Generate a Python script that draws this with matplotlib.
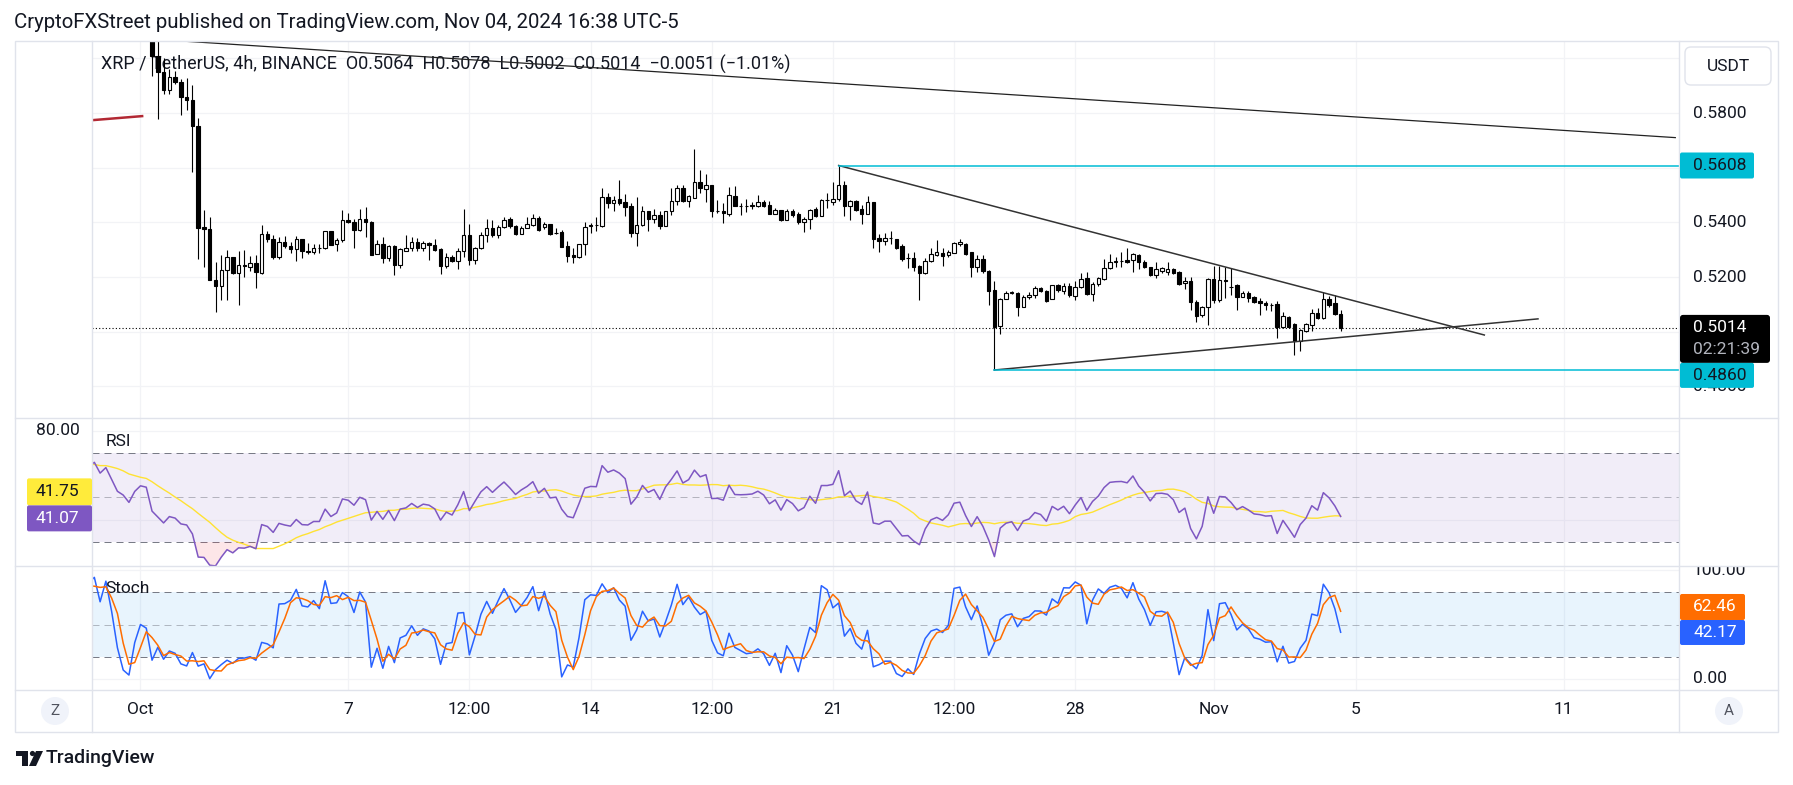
import numpy as np
import pandas as pd
import matplotlib
matplotlib.use("Agg")
import matplotlib.pyplot as plt
from matplotlib.patches import Rectangle, Circle, Polygon, FancyBboxPatch

plt.rcParams['font.family'] = ['Roboto', 'DejaVu Sans']

W, H, DPI = 1793, 785, 100
TXT = '#131722'
GRID = '#F2F3F6'
BORDER = '#E0E3EB'

# ---------------- data (4h bars, bar 0 = Oct 1 00:00) ----------------
first_bar = -40
opens = [
    .562,.565,.574,.568,.577,.584,.578,.587,.580,.589,
    .596,.590,.598,.591,.600,.606,.599,.607,.601,.609,
    .615,.608,.616,.610,.618,.624,.617,.625,.619,.627,
    .632,.625,
    .630,.635,.628,.634,.626,.617,.614,.608,.617,.622,
    .6210,.6010,.5950,.5885,.5930,.5915,.5857,.5847,
    .5751,.5383,.5374,.5188,.5169,.5224,.5272,.5214,.5245,.5238,
    .5250,.5214,.5357,.5338,.5273,.5327,.5312,.5301,.5338,.5294,
    .5291,.5305,.5305,.5367,.5322,.5334,.5407,.5400,.5373,.5411,
    .5402,.5285,.5322,.5269,.5312,.5245,.5297,.5308,.5330,.5308,
    .5323,.5318,.5303,.5241,.5272,.5257,.5297,.5353,.5261,.5306,
    .5353,.5381,.5355,.5383,.5414,.5385,.5358,.5381,.5391,.5416,
    .5382,.5393,.5362,.5364,.5314,.5281,.5272,.5320,.5387,.5389,
    .5387,.5492,.5470,.5484,.5473,.5460,.5360,.5389,.5441,.5414,
    .5426,.5388,.5441,.5478,.5524,.5479,.5490,.5548,.5523,.5535,
    .5441,.5441,.5432,.5496,.5461,.5460,.5461,.5461,.5473,.5462,
    .5432,.5444,.5410,.5440,.5430,.5403,.5411,.5448,.5425,.5481,
    .5476,.5484,.5535,.5461,.5478,.5449,.5432,.5474,.5344,.5333,
    .5342,.5338,.5314,.5269,.5270,.5241,.5216,.5257,.5282,.5287,
    .5281,.5289,.5321,.5321,.5290,.5238,.5266,.5222,.5153,.5021,
    .5120,.5143,.5143,.5092,.5126,.5134,.5159,.5149,.5121,.5170,
    .5150,.5167,.5131,.5164,.5195,.5138,.5173,.5193,.5232,.5256,
    .5259,.5262,.5262,.5282,.5254,.5235,.5207,.5223,.5220,.5229,
    .5219,.5177,.5186,.5110,.5060,.5092,.5192,.5116,.5189,.5165,
    .5170,.5128,.5143,.5128,.5114,.5104,.5098,.5102,.5019,.5055,
    .5027,.4967,.5004,.5025,.5070,.5051,.5120,.5104,.5064,
]
highs = [
    .567,.576,.575,.579,.586,.585,.589,.588,.591,.598,
    .597,.600,.599,.602,.608,.607,.609,.608,.611,.617,
    .616,.618,.617,.620,.626,.625,.627,.626,.629,.634,
    .633,.632,
    .637,.636,.635,.635,.627,.619,.615,.618,.624,.625,
    .6250,.6080,.6000,.5960,.5955,.5925,.5928,.5903,
    .5781,.5444,.5419,.5255,.5281,.5299,.5275,.5297,.5299,.5277,
    .5279,.5389,.5367,.5355,.5345,.5349,.5328,.5351,.5340,.5324,
    .5322,.5321,.5369,.5369,.5342,.5445,.5435,.5414,.5450,.5458,
    .5406,.5336,.5345,.5316,.5316,.5306,.5355,.5345,.5342,.5333,
    .5330,.5339,.5306,.5288,.5279,.5306,.5449,.5395,.5309,.5364,
    .5411,.5408,.5390,.5419,.5418,.5391,.5385,.5419,.5430,.5422,
    .5403,.5394,.5378,.5372,.5332,.5305,.5321,.5403,.5399,.5418,
    .5526,.5506,.5496,.5555,.5504,.5470,.5492,.5460,.5443,.5448,
    .5441,.5443,.5524,.5537,.5537,.5500,.5668,.5591,.5577,.5537,
    .5482,.5470,.5530,.5533,.5472,.5485,.5476,.5500,.5482,.5478,
    .5451,.5445,.5448,.5448,.5437,.5421,.5450,.5455,.5487,.5506,
    .5548,.5608,.5551,.5482,.5482,.5463,.5496,.5476,.5357,.5360,
    .5368,.5340,.5321,.5287,.5292,.5243,.5271,.5307,.5336,.5305,
    .5300,.5329,.5338,.5323,.5293,.5281,.5281,.5226,.5186,.5122,
    .5150,.5150,.5146,.5134,.5146,.5167,.5162,.5153,.5171,.5173,
    .5177,.5177,.5186,.5216,.5217,.5183,.5201,.5265,.5283,.5274,
    .5290,.5305,.5287,.5284,.5262,.5238,.5256,.5235,.5254,.5232,
    .5223,.5201,.5201,.5116,.5094,.5195,.5242,.5242,.5238,.5232,
    .5175,.5149,.5149,.5131,.5122,.5112,.5104,.5114,.5073,.5057,
    .5031,.5009,.5033,.5083,.5085,.5146,.5131,.5134,.5078,
]
lows = [
    .560,.564,.566,.567,.576,.576,.577,.578,.579,.588,
    .588,.589,.589,.590,.599,.597,.598,.599,.600,.608,
    .606,.607,.608,.609,.617,.615,.616,.617,.618,.626,
    .623,.624,
    .629,.627,.627,.625,.615,.612,.607,.607,.615,.618,
    .5936,.5779,.5870,.5870,.5905,.5794,.5812,.5586,
    .5267,.5235,.5188,.5071,.5117,.5117,.5211,.5099,.5201,.5221,
    .5160,.5212,.5330,.5266,.5267,.5308,.5288,.5260,.5269,.5284,
    .5286,.5288,.5303,.5318,.5296,.5330,.5397,.5308,.5369,.5347,
    .5281,.5284,.5250,.5260,.5208,.5233,.5294,.5294,.5294,.5294,
    .5263,.5294,.5212,.5233,.5255,.5230,.5275,.5245,.5249,.5302,
    .5330,.5345,.5342,.5379,.5381,.5355,.5357,.5379,.5388,.5369,
    .5374,.5354,.5359,.5309,.5256,.5253,.5268,.5282,.5360,.5370,
    .5382,.5451,.5443,.5463,.5423,.5345,.5315,.5387,.5370,.5399,
    .5377,.5387,.5428,.5465,.5476,.5457,.5490,.5509,.5476,.5421,
    .5433,.5399,.5425,.5460,.5427,.5438,.5448,.5457,.5457,.5432,
    .5432,.5406,.5409,.5418,.5394,.5366,.5374,.5421,.5423,.5452,
    .5465,.5479,.5423,.5409,.5441,.5394,.5430,.5307,.5292,.5317,
    .5321,.5304,.5260,.5234,.5223,.5116,.5212,.5255,.5278,.5242,
    .5275,.5287,.5314,.5281,.5201,.5220,.5214,.5098,.4860,.4990,
    .5119,.5138,.5057,.5089,.5121,.5122,.5146,.5110,.5120,.5146,
    .5138,.5128,.5116,.5161,.5134,.5112,.5169,.5189,.5229,.5238,
    .5238,.5253,.5217,.5228,.5232,.5205,.5195,.5216,.5207,.5210,
    .5170,.5157,.5079,.5034,.5055,.5025,.5104,.5110,.5122,.5134,
    .5079,.5126,.5110,.5104,.5061,.5079,.5076,.4978,.5015,.5012,
    .4915,.4929,.5000,.5004,.5047,.5048,.5092,.5061,.5002,
]
closes = [
    .565,.574,.568,.577,.584,.578,.587,.580,.589,.596,
    .590,.598,.591,.600,.606,.599,.607,.601,.609,.615,
    .608,.616,.610,.618,.624,.617,.625,.619,.627,.632,
    .625,.630,
    .635,.628,.634,.626,.617,.614,.608,.617,.622,.621,
    .6010,.5950,.5885,.5930,.5915,.5857,.5846,.5751,
    .5381,.5374,.5188,.5169,.5224,.5272,.5214,.5245,.5240,.5250,
    .5217,.5358,.5338,.5273,.5328,.5312,.5301,.5338,.5294,.5291,
    .5308,.5308,.5367,.5319,.5336,.5407,.5400,.5373,.5412,.5400,
    .5281,.5322,.5270,.5312,.5245,.5302,.5308,.5330,.5308,.5323,
    .5318,.5300,.5241,.5272,.5257,.5297,.5355,.5261,.5306,.5353,
    .5381,.5355,.5383,.5409,.5385,.5357,.5378,.5394,.5416,.5373,
    .5394,.5357,.5360,.5311,.5278,.5272,.5320,.5382,.5390,.5389,
    .5492,.5470,.5482,.5472,.5455,.5360,.5389,.5441,.5414,.5426,
    .5387,.5441,.5478,.5524,.5479,.5496,.5548,.5524,.5535,.5440,
    .5441,.5433,.5499,.5461,.5460,.5461,.5463,.5473,.5461,.5432,
    .5444,.5409,.5441,.5428,.5403,.5412,.5445,.5423,.5481,.5481,
    .5485,.5535,.5461,.5478,.5445,.5432,.5474,.5340,.5333,.5343,
    .5343,.5307,.5267,.5268,.5238,.5216,.5257,.5283,.5290,.5278,
    .5293,.5326,.5329,.5283,.5238,.5265,.5223,.5150,.5019,.5120,
    .5140,.5146,.5089,.5126,.5134,.5159,.5149,.5114,.5170,.5153,
    .5167,.5133,.5165,.5194,.5138,.5173,.5195,.5232,.5256,.5259,
    .5260,.5256,.5283,.5254,.5235,.5207,.5231,.5232,.5229,.5214,
    .5175,.5186,.5110,.5059,.5092,.5192,.5116,.5189,.5187,.5162,
    .5128,.5140,.5125,.5107,.5104,.5098,.5099,.5019,.5057,.5016,
    .4967,.5006,.5027,.5070,.5051,.5119,.5098,.5064,.5014,
]

# last indicator values as printed on the chart's scale labels
rsi_last = 41.07
rsi_ma_last = 41.75
stoch_k_last = 42.17
stoch_d_last = 62.46

# drawings (bar index, price)
long_line_x = [0.0, 266.0]
long_line_y = [0.6073, 0.5710]
upper_tl_x = [121.0, 232.9]
upper_tl_y = [0.5608, 0.4988]
lower_tl_x = [148.0, 242.2]
lower_tl_y = [0.4860, 0.5047]
red_seg_x = [-10.0, 0.5]
red_seg_y = [0.5771, 0.5789]
level_hi = 0.5608
level_hi_start = 121.0
level_lo = 0.4860
level_lo_start = 148.0
last_price = 0.5014
countdown = '02:21:39'

tick_pos = [0, 36, 57, 78, 99, 120, 141, 162, 186, 210.67, 246.67]
tick_lab = ['Oct', '7', '12:00', '14', '12:00', '21', '12:00', '28', 'Nov', '5', '11']
price_grid = [0.60, 0.58, 0.56, 0.54, 0.52, 0.50, 0.48]
price_labels = [0.58, 0.54, 0.52, 0.48]

header = "CryptoFXStreet published on TradingView.com, Nov 04, 2024 16:38 UTC-5"
legend = "XRP / TetherUS, 4h, BINANCE  O0.5064  H0.5078  L0.5002  C0.5014  \u22120.0051 (\u22121.01%)"

assert len(opens) == len(highs) == len(lows) == len(closes)

# ---------------- indicators ----------------
o = np.array(opens); hi = np.array(highs); lo = np.array(lows); c = np.array(closes)
x = np.arange(first_bar, first_bar + len(c))
n = 14
d = np.diff(c, prepend=c[0])
g = np.clip(d, 0, None); ls_ = np.clip(-d, 0, None)
ag = np.full(len(c), np.nan); al = np.full(len(c), np.nan)
ag[n] = g[1:n+1].mean(); al[n] = ls_[1:n+1].mean()
for i in range(n+1, len(c)):
    ag[i] = (ag[i-1]*(n-1) + g[i]) / n
    al[i] = (al[i-1]*(n-1) + ls_[i]) / n
rsi = 100 - 100/(1 + ag/al)
rsi_ma = pd.Series(rsi).rolling(14).mean().values
hh = pd.Series(hi).rolling(14).max().values
ll = pd.Series(lo).rolling(14).min().values
k = 100*(c - ll)/(hh - ll)
dline = pd.Series(k).rolling(3).mean().values

# ---------------- figure ----------------
fig = plt.figure(figsize=(W/DPI, H/DPI), dpi=DPI)
fig.patch.set_facecolor('white')

def px_axes(x0, y0, x1, y1, z=1):
    a = fig.add_axes([x0/W, 1-y1/H, (x1-x0)/W, (y1-y0)/H], zorder=z)
    a.set_xticks([]); a.set_yticks([])
    for s in a.spines.values():
        s.set_visible(False)
    a.set_facecolor('white')
    return a

XL = (-8.405, 266.64)
ax = px_axes(92, 41, 1679, 418)
ax.set_xlim(*XL); ax.set_ylim(0.46844, 0.60634)
ax_r = px_axes(92, 418, 1679, 566)
ax_r.set_xlim(*XL); ax_r.set_ylim(19.21, 85.73)
ax_s = px_axes(92, 566, 1679, 690)
ax_s.set_xlim(*XL); ax_s.set_ylim(-10.46, 104.0)

for a in (ax, ax_r, ax_s):
    for t in tick_pos:
        a.axvline(t, color=GRID, lw=0.9, zorder=0)
for v in price_grid:
    ax.axhline(v, color=GRID, lw=0.9, zorder=0)
for v in (80, 40):
    ax_r.axhline(v, color=GRID, lw=0.9, zorder=0)
for v in (100, 0):
    ax_s.axhline(v, color=GRID, lw=0.9, zorder=0)

# legend text (under candles)
ax.text(0.0057, 0.939, legend, transform=ax.transAxes, fontsize=13, color=TXT,
        va='center', ha='left', zorder=1)

# candles
up = c >= o
ax.vlines(x, lo, hi, color='black', lw=0.8, zorder=3)
ax.bar(x, np.abs(c - o), bottom=np.minimum(o, c), width=0.6,
       color=np.where(up, 'white', 'black'), edgecolor='black', linewidth=0.8, zorder=4)

# drawings
ax.plot(long_line_x, long_line_y, color='#222222', lw=0.9, zorder=5)
ax.plot(upper_tl_x, upper_tl_y, color='#333333', lw=1.1, zorder=5)
ax.plot(lower_tl_x, lower_tl_y, color='#333333', lw=1.1, zorder=5)
ax.plot(red_seg_x, red_seg_y, color='#B22833', lw=1.8, zorder=5, solid_capstyle='butt')
ax.plot([level_hi_start, XL[1]], [level_hi, level_hi], color='#00BCD4', lw=1.1, zorder=5)
ax.plot([level_lo_start, XL[1]], [level_lo, level_lo], color='#00BCD4', lw=1.1, zorder=5)
ax.axhline(last_price, color='black', lw=0.8, ls=(0, (1, 2)), zorder=2)

# RSI panel
ax_r.axhspan(30, 70, color='#7E57C2', alpha=0.1, lw=0, zorder=0)
ax_r.axhline(70, color='#787B86', lw=0.72, ls=(0, (7, 5)), zorder=1)
ax_r.axhline(50, color='#787B86', lw=0.72, ls=(0, (7, 5)), alpha=0.5, zorder=1)
ax_r.axhline(30, color='#787B86', lw=0.72, ls=(0, (7, 5)), zorder=1)
ax_r.fill_between(x, rsi, 30, where=rsi < 30, interpolate=True, color='#F23645', alpha=0.12, lw=0, zorder=1)
ax_r.fill_between(x, rsi, 70, where=rsi > 70, interpolate=True, color='#089981', alpha=0.12, lw=0, zorder=1)
ax_r.plot(x, rsi_ma, color='#FFE233', lw=1.0, zorder=3)
ax_r.plot(x, rsi, color='#7E57C2', lw=1.1, zorder=4)
ax_r.text(0.0088, 0.843, 'RSI', transform=ax_r.transAxes, fontsize=12.5, color=TXT, va='center')

# Stoch panel
ax_s.axhspan(20, 80, color='#2196F3', alpha=0.1, lw=0, zorder=0)
ax_s.axhline(80, color='#787B86', lw=0.72, ls=(0, (7, 5)), zorder=1)
ax_s.axhline(50, color='#787B86', lw=0.72, ls=(0, (7, 5)), alpha=0.5, zorder=1)
ax_s.axhline(20, color='#787B86', lw=0.72, ls=(0, (7, 5)), zorder=1)
ax_s.plot(x, k, color='#2962FF', lw=1.1, zorder=3)
ax_s.plot(x, dline, color='#FF6D00', lw=1.1, zorder=4)
ax_s.text(0.0082, 0.815, 'Stoch', transform=ax_s.transAxes, fontsize=12.5, color=TXT, va='center')

# ---------------- overlay chrome (pixel coords) ----------------
ov = fig.add_axes([0, 0, 1, 1], zorder=10)
ov.set_xlim(0, W); ov.set_ylim(H, 0); ov.axis('off'); ov.patch.set_alpha(0)

def ypx(a, v):
    return H - a.transData.transform((0, v))[1]

def xpx(a, v):
    return a.transData.transform((v, 0))[0]

FS = 12.5
ov.text(14, 22, header, fontsize=14.7, color=TXT, va='center', ha='left')

# borders
ov.add_patch(Rectangle((15, 41), 1763, 691, fill=False, ec=BORDER, lw=1.0, zorder=3))
for yy in (418, 566, 690):
    ov.plot([15, 1778], [yy, yy], color=BORDER, lw=1.0, zorder=3)
for xx in (92, 1679):
    ov.plot([xx, xx], [41, 732], color=BORDER, lw=1.0, zorder=3)

# price axis labels
for v in price_labels:
    ov.text(1693, ypx(ax, v), f'{v:.4f}', fontsize=FS, color=TXT, va='center', ha='left', zorder=1)

ov.add_patch(FancyBboxPatch((1685, 47), 86, 38, boxstyle='round,pad=0,rounding_size=6',
                            fc='white', ec=BORDER, lw=1.0, zorder=4))
ov.text(1728, 66.5, 'USDT', fontsize=FS, color=TXT, va='center', ha='center', zorder=5)

def label_box(x0, y0, w, h, fc, text, tc, tx, zo=5):
    ov.add_patch(FancyBboxPatch((x0, y0), w, h, boxstyle='round,pad=0,rounding_size=2',
                                fc=fc, ec='none', zorder=zo))
    ov.text(tx, y0 + h/2, text, fontsize=FS, color=tc, va='center', ha='left', zorder=zo+1)

yh = ypx(ax, level_hi)
label_box(1680, yh - 13, 74, 26, '#00BCD4', f'{level_hi:.4f}', TXT, 1693)
yl = ypx(ax, last_price)
ov.add_patch(FancyBboxPatch((1680, yl - 13), 90, 48, boxstyle='round,pad=0,rounding_size=3',
                            fc='black', ec='none', zorder=5))
ov.text(1693, yl, f'{last_price:.4f}', fontsize=FS, color='white', va='center', ha='left', zorder=6)
ov.text(1693, yl + 22, countdown, fontsize=FS, color='#B2B5BE', va='center', ha='left', zorder=6)
label_box(1680, yl + 35, 74, 25, '#00BCD4', f'{level_lo:.4f}', TXT, 1693)

# RSI left labels
ov.text(36, ypx(ax_r, 80), '80.00', fontsize=FS, color=TXT, va='center', ha='left')
yr = ypx(ax_r, rsi_last)
label_box(27, yr - 39, 65, 27, '#FFEB3B', f'{rsi_ma_last:.2f}', TXT, 35)
label_box(27, yr - 12, 65, 26, '#7E57C2', f'{rsi_last:.2f}', 'white', 35)

# Stoch right labels (the 100 label is cut by the pane separator)
ov.text(1693, ypx(ax_s, 100), '100.00', fontsize=FS, color=TXT, va='center', ha='left', zorder=1)
ov.add_patch(Rectangle((1680, 540), 97, 26, fc='white', ec='none', zorder=2))
ov.text(1693, ypx(ax_s, 0), '0.00', fontsize=FS, color=TXT, va='center', ha='left')
ys = ypx(ax_s, stoch_k_last)
label_box(1680, ys - 39, 65, 26, '#FF6D00', f'{stoch_d_last:.2f}', 'white', 1693)
label_box(1680, ys - 13, 65, 25, '#2962FF', f'{stoch_k_last:.2f}', 'white', 1693)

# time axis labels
for t, lab in zip(tick_pos, tick_lab):
    ov.text(xpx(ax_s, t), 710, lab, fontsize=FS, color=TXT, va='center', ha='center')

for cx, lab in ((55, 'Z'), (1729, 'A')):
    ov.add_patch(Circle((cx, 711), 14, fc='#F0F3FA', ec='none', zorder=4))
    ov.text(cx, 711, lab, fontsize=11, color='#50535E', va='center', ha='center', zorder=5)

# TradingView logo
ov.add_patch(Rectangle((16, 751), 12, 5, fc=TXT, ec='none'))
ov.add_patch(Rectangle((22, 751), 6, 15, fc=TXT, ec='none'))
ov.add_patch(Circle((32.5, 753.5), 2.6, fc=TXT, ec='none'))
ov.add_patch(Polygon([(36, 751), (43, 751), (36, 766), (29, 766)], closed=True, fc=TXT, ec='none'))
ov.text(46, 758, 'TradingView', fontsize=14, color=TXT, va='center', ha='left', fontweight='medium')

fig.savefig('out.png', dpi=DPI, facecolor='white')
